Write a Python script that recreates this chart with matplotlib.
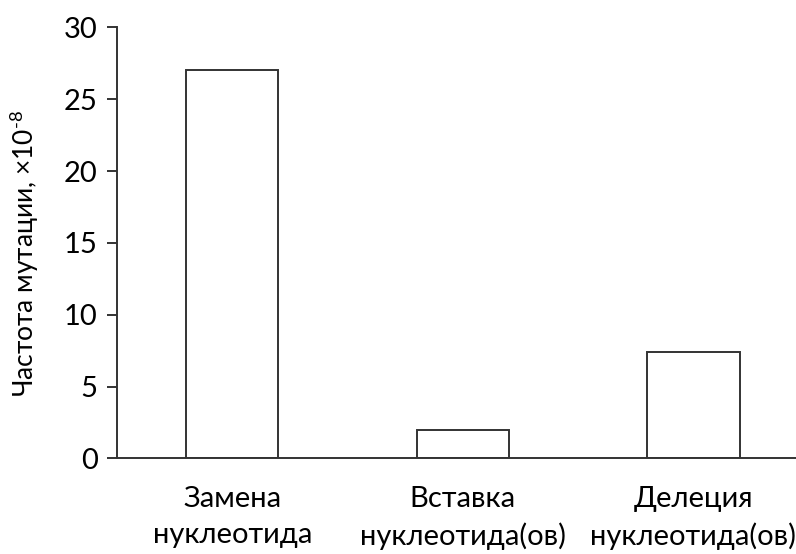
import matplotlib
matplotlib.use("Agg")
import matplotlib.pyplot as plt

plt.rcParams['font.family'] = ['Lato', 'DejaVu Sans']
plt.rcParams['mathtext.fontset'] = 'custom'
plt.rcParams['mathtext.rm'] = 'Lato'
plt.rcParams['mathtext.it'] = 'Lato'

categories = ["Замена\nнуклеотида", "Вставка\nнуклеотида(ов)", "Делеция\nнуклеотида(ов)"]
values = [27.05, 1.98, 7.44]
y_ticks = [0, 5, 10, 15, 20, 25, 30]

fig = plt.figure(figsize=(7.96, 5.54), dpi=100)
ax = fig.add_axes([0.147, 0.1724, 0.869, 0.778])

ax.bar(range(len(categories)), values, width=0.4,
       color='white', edgecolor='#333333', linewidth=1.4)

ax.set_xlim(-0.5, 2.5)
ax.set_ylim(0, 30)
ax.set_yticks(y_ticks)
ax.set_xticks(range(len(categories)))
ax.set_xticklabels(categories, fontsize=21, linespacing=1.45)

for s in ['top', 'right']:
    ax.spines[s].set_visible(False)
for s in ['left', 'bottom']:
    ax.spines[s].set_linewidth(1.4)
    ax.spines[s].set_color('#333333')
    ax.spines[s].set_clip_on(False)

ax.tick_params(axis='y', length=7, width=1.4, color='#333333',
               labelsize=21, pad=7)
ax.tick_params(axis='x', length=0, pad=20)

ax.set_ylabel(r"Частота мутации, ×10$^{\text{-8}}$", fontsize=19)
ax.yaxis.set_label_coords(-0.11, 0.475)

fig.savefig("out.png", dpi=100)
